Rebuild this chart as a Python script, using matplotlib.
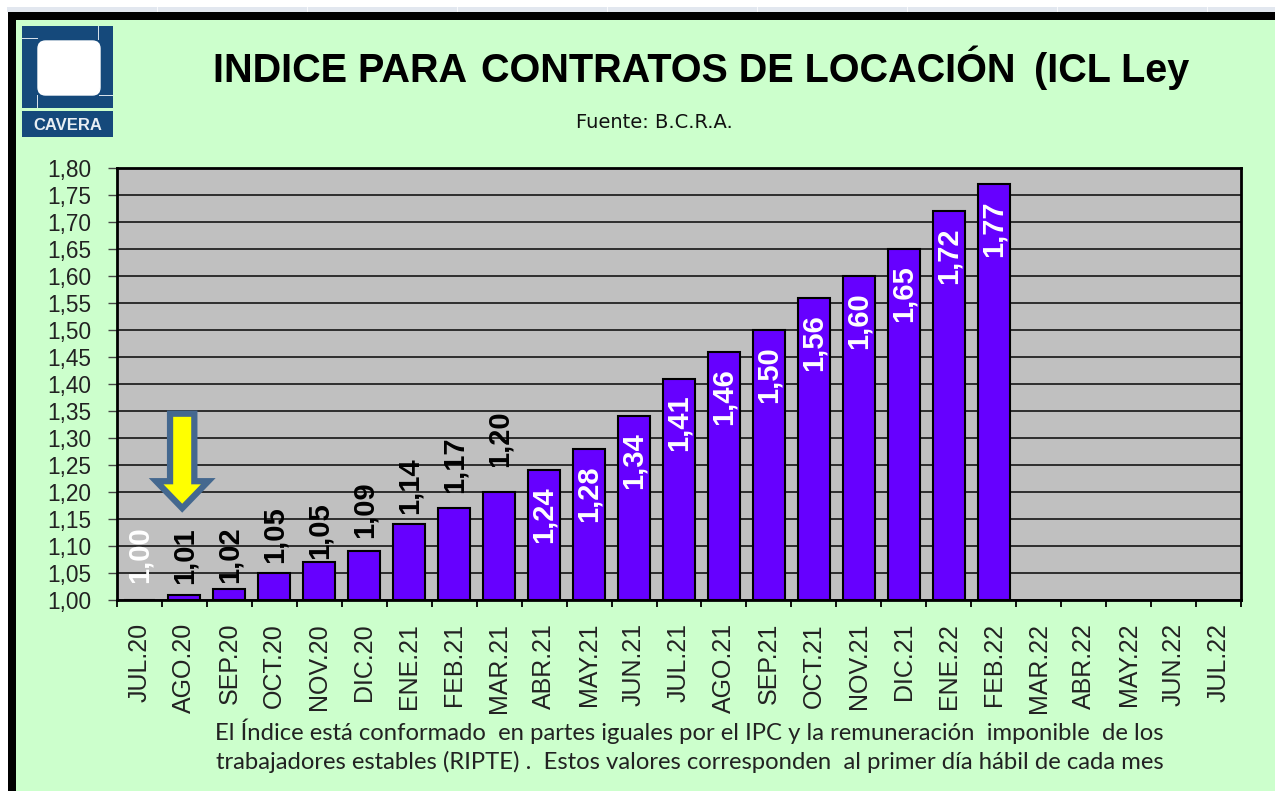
#!/usr/bin/env python3
"""Indice para contratos de locacion (ICL) - bar chart."""

import matplotlib

matplotlib.use("Agg")
import matplotlib.pyplot as plt
from matplotlib.patches import Rectangle, FancyBboxPatch, Polygon

W, H = 1275, 791

months = ["JUL.20", "AGO.20", "SEP.20", "OCT.20", "NOV.20", "DIC.20", "ENE.21", "FEB.21",
          "MAR.21", "ABR.21", "MAY.21", "JUN.21", "JUL.21", "AGO.21", "SEP.21", "OCT.21",
          "NOV.21", "DIC.21", "ENE.22", "FEB.22", "MAR.22", "ABR.22", "MAY.22", "JUN.22",
          "JUL.22"]
# bar heights as drawn (NOV.20 is labelled 1,05 but drawn near 1,07)
values = [1.00, 1.01, 1.02, 1.05, 1.07, 1.09, 1.14, 1.17, 1.20, 1.24, 1.28, 1.34, 1.41,
          1.46, 1.50, 1.56, 1.60, 1.65, 1.72, 1.77]
labels = ["1,00", "1,01", "1,02", "1,05", "1,05", "1,09", "1,14", "1,17", "1,20", "1,24",
          "1,28", "1,34", "1,41", "1,46", "1,50", "1,56", "1,60", "1,65", "1,72", "1,77"]
yticks = [1.00, 1.05, 1.10, 1.15, 1.20, 1.25, 1.30, 1.35, 1.40, 1.45, 1.50, 1.55, 1.60,
          1.65, 1.70, 1.75, 1.80]
title_parts = ["INDICE PARA", "CONTRATOS DE LOCACIÓN", "(ICL Ley"]
source = "Fuente: B.C.R.A."
note1 = "El Índice está conformado  en partes iguales por el IPC y la remuneración  imponible  de los"
note2 = "trabajadores estables (RIPTE) .  Estos valores corresponden  al primer día hábil de cada mes"

# gap between bar top and label for the labels standing above the bars
above_gaps = [0.031, 0.02, 0.011, 0.018, 0.006, 0.024, 0.02, 0.028, 0.046]

GREEN = "#CCFFCC"
BLUE = "#15497B"
PURPLE = "#6600FF"
LABEL_FONT = dict(rotation=90, ha="center", fontsize=21, fontweight="bold",
                  family="Liberation Sans", zorder=4)

fig = plt.figure(figsize=(W / 100, H / 100), dpi=100, facecolor="white")


# page elements are placed in pixels of the screenshot, y going down
def px_rect(x, y, w, h, **kw):
    fig.patches.append(Rectangle((x / W, 1 - (y + h) / H), w / W, h / H,
                                 transform=fig.transFigure, **kw))


def px_text(x, y, s, **kw):
    fig.text(x / W, 1 - y / H, s, **kw)


# spreadsheet cell lines behind the frame
px_rect(7, 7, W - 7, 5, facecolor="#E2E7EF", edgecolor="none")
for xc in range(157, W, 150):
    px_rect(xc, 7, 1, 5, facecolor="#F8F9FB", edgecolor="none")
px_rect(8, 12, W - 8, H - 12, facecolor="black", edgecolor="none")
px_rect(16, 20, W - 16, H - 20, facecolor=GREEN, edgecolor="none")

# logo
px_rect(22, 26, 91, 111, facecolor=BLUE, edgecolor="none")
px_rect(22, 108, 91, 3, facecolor=GREEN, edgecolor="none")
for line in [(98, 26, 1, 14), (22, 38, 16, 1), (37, 95, 1, 13), (99, 95, 14, 1)]:
    px_rect(*line, facecolor="#D5E0EA", edgecolor="none")
fig.patches.append(FancyBboxPatch((38 / W, 1 - 95 / H), 62 / W, 54 / H,
                                  boxstyle="round,pad=0,rounding_size=0.006",
                                  transform=fig.transFigure, facecolor="white",
                                  edgecolor="white", mutation_aspect=W / H))
px_text(68, 125, "CAVERA", color="#E8EEF3", fontsize=12, fontweight="bold",
        family="Liberation Sans", ha="center", va="center")

for xp, part in zip([213, 481, 1034], title_parts):
    px_text(xp, 71, part, fontsize=28.5, fontweight="bold", family="Liberation Sans",
            color="black", ha="left", va="center")
px_text(654, 123, source, fontsize=14, family="DejaVu Sans", color="#111111",
        ha="center", va="center")
px_text(689, 731, note1, fontsize=17.2, family="Lato", color="#222222", ha="center", va="center")
px_text(690, 762, note2, fontsize=17.2, family="Lato", color="#222222", ha="center", va="center")

ax = fig.add_axes([117 / W, 1 - 600 / H, (1241 - 117) / W, (600 - 168) / H])
ax.set_zorder(5)
ax.set_facecolor("#C0C0C0")

x = list(range(len(months)))
y_base = 1.0
ax.bar(x[:len(values)], [v - y_base for v in values], bottom=y_base, width=0.71,
       color=PURPLE, edgecolor="black", linewidth=1.5, zorder=3)

for i, (v, s) in enumerate(zip(values, labels)):
    if i < len(above_gaps):
        color = "white" if i == 0 else "black"
        ax.text(i, v + above_gaps[i], s, va="bottom", color=color, **LABEL_FONT)
    else:
        ax.text(i, v - 0.03, s, va="top", color="white", **LABEL_FONT)

ax.set_xlim(-0.5, len(months) - 0.5)
ax.set_ylim(1.0, 1.8)
ax.set_yticks(yticks)
ax.set_yticklabels([f"{t:.2f}".replace(".", ",") for t in yticks], fontsize=16.3,
                   family="Liberation Sans", color="#222222")
ax.set_xticks([i - 0.5 for i in range(len(months) + 1)])
ax.set_xticklabels([])
ax.set_xticks(x, minor=True)
ax.set_xticklabels(months, minor=True, rotation=90, fontsize=18, family="Liberation Sans",
                   color="#222222")
ax.tick_params(axis="x", which="minor", length=0, pad=16.5)
ax.tick_params(axis="x", which="major", length=5, width=1.3, direction="out", color="black")
ax.tick_params(axis="y", length=6.5, width=1, color="#444444", pad=12)
ax.grid(axis="y", color="#222222", linewidth=1.3, zorder=1)
ax.set_axisbelow(True)
for sp in ax.spines.values():
    sp.set_linewidth(2)
    sp.set_color("black")

# arrow marking the start of the index (data coords: category, index value)
arrow_x = 1 - 0.05
ax.add_patch(Polygon([(arrow_x - 0.27, 1.345), (arrow_x + 0.27, 1.345), (arrow_x + 0.27, 1.22),
                      (arrow_x + 0.58, 1.22), (arrow_x, 1.17), (arrow_x - 0.58, 1.22),
                      (arrow_x - 0.27, 1.22)], closed=True, facecolor="#FFFF00",
                     edgecolor="#44688F", linewidth=4.5, zorder=5, joinstyle="miter"))

fig.savefig("out.png", dpi=100, facecolor=fig.get_facecolor())
